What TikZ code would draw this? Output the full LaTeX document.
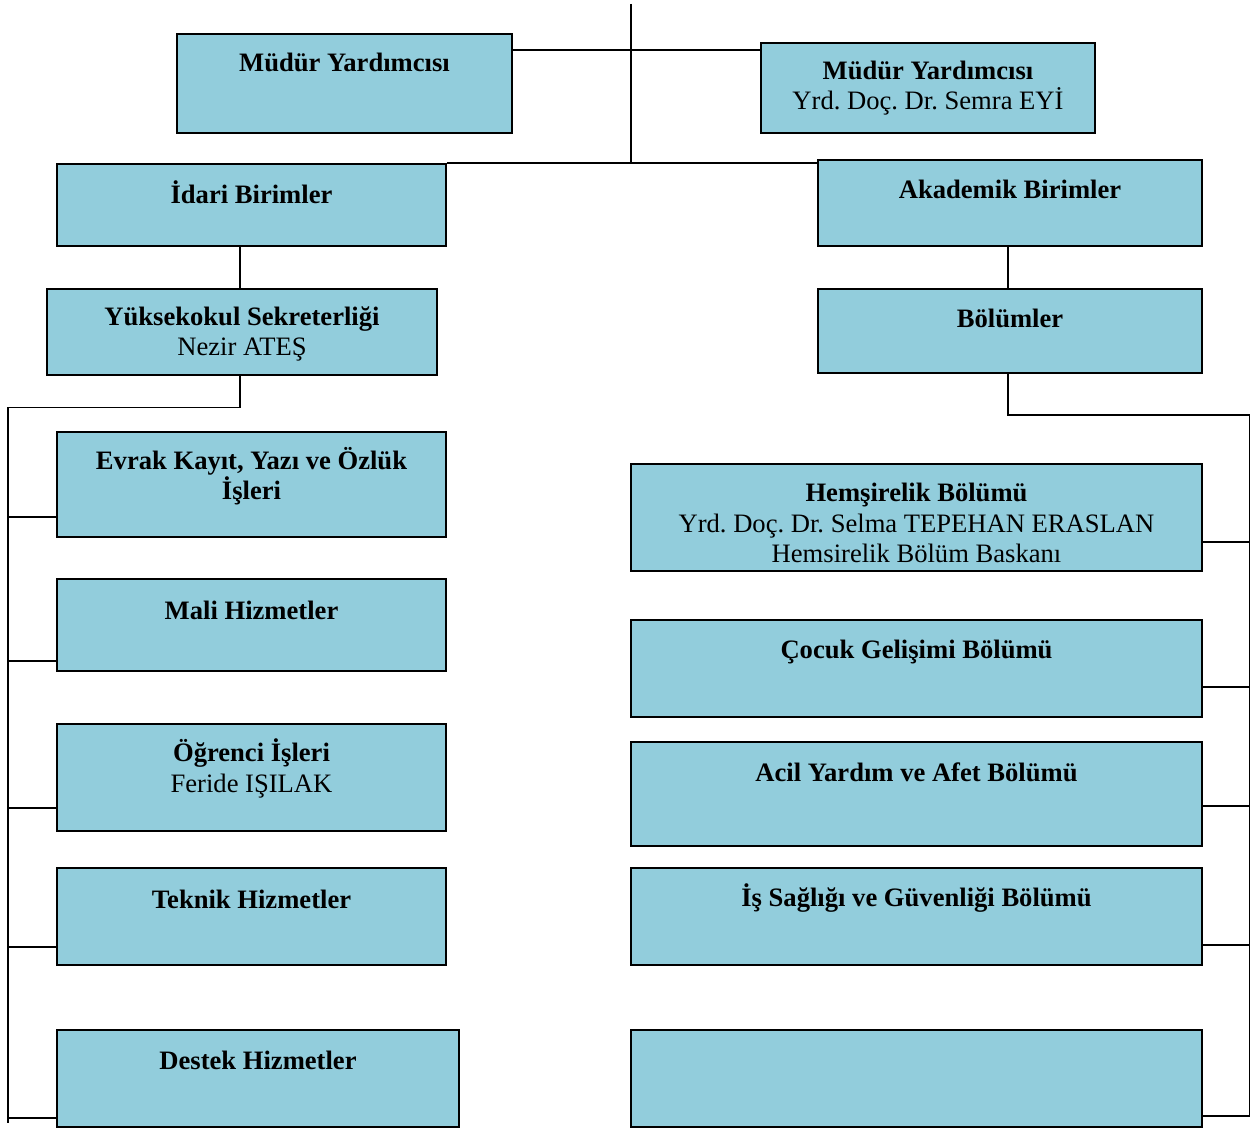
\documentclass[tikz,border=0pt]{standalone}
\usepackage{fontspec}
\setmainfont{Liberation Serif}
\definecolor{boxfill}{HTML}{92CDDC}
\frenchspacing
\begin{document}
\begin{tikzpicture}[x=1pt,y=-1pt,
  orgbox/.style={draw=black,line width=1.9pt,fill=boxfill,inner sep=0pt},
  boxtxt/.style={anchor=north,inner sep=0pt,align=center,font=\fontsize{26.6}{30.8}\selectfont},
  conn/.style={line width=1.9pt,draw=black}]
\useasboundingbox (0,0) rectangle (1251,1131);
% helper: box from (x1,y1) to (x2,y2)
\newcommand{\obox}[5]{%
  \node[orgbox,minimum width={#3-#1},minimum height={#4-#2}] (#5) at ({(#1+#3)/2},{(#2+#4)/2}) {};}
\newcommand{\otxt}[4]{%
  \node[boxtxt] (#4) at ({#1},{#2+13}) {\rule{0pt}{24pt}#3};}

% boxes
\obox{177}{34}{512}{133}{my1}
\obox{761}{43}{1095}{133}{my2}
\obox{57}{164}{446}{246}{idari}
\obox{818}{160}{1202}{246}{akad}
\obox{47}{289}{437}{375}{ysek}
\obox{818}{289}{1202}{373}{bol}
\obox{57}{432}{446}{537}{evrak}
\obox{57}{579}{446}{671}{mali}
\obox{57}{724}{446}{831}{ogr}
\obox{57}{868}{446}{965}{tek}
\obox{57}{1030}{459}{1127}{des}
\obox{631}{464}{1202}{571}{hem}
\obox{631}{620}{1202}{717}{coc}
\obox{631}{742}{1202}{846}{acil}
\obox{631}{868}{1202}{965}{isg}
\obox{631}{1030}{1202}{1127}{bos}

% texts
\otxt{344.5}{34}{\textbf{Müdür Yardımcısı}}{t1}
\otxt{928}{42}{\textbf{Müdür Yardımcısı}\\Yrd. Doç. Dr. Semra EYİ}{t2}
\otxt{251.5}{166}{\textbf{İdari Birimler}}{t3}
\otxt{1010}{161}{\textbf{Akademik Birimler}}{t4}
\otxt{242}{288}{\textbf{Yüksekokul Sekreterliği}\\Nezir ATEŞ}{t5}
\otxt{1010}{290}{\textbf{Bölümler}}{t6}
\otxt{251.5}{432}{\textbf{Evrak Kayıt, Yazı ve Özlük}\\\textbf{İşleri}}{t7}
\otxt{251.5}{582}{\textbf{Mali Hizmetler}}{t8}
\otxt{251.5}{724}{\textbf{Öğrenci İşleri}\\Feride IŞILAK}{t9}
\otxt{251.5}{871}{\textbf{Teknik Hizmetler}}{t10}
\otxt{258}{1032}{\textbf{Destek Hizmetler}}{t11}
\otxt{916.5}{464}{\textbf{Hemşirelik Bölümü}\\Yrd. Doç. Dr. Selma TEPEHAN ERASLAN\\Hemsirelik Bölüm Baskanı}{t12}
\otxt{916.5}{621}{\textbf{Çocuk Gelişimi Bölümü}}{t13}
\otxt{916.5}{744}{\textbf{Acil Yardım ve Afet Bölümü}}{t14}
\otxt{916.5}{869}{\textbf{İş Sağlığı ve Güvenliği Bölümü}}{t15}

% coordinates
\coordinate (top) at (631,4);
\coordinate (mid) at (631,164);
\coordinate (lj) at (8,407.5);
\coordinate (lbot) at (8,1123);
\coordinate (rj) at (1249.5,415);
\coordinate (rbot) at (1249.5,1116);

% connectors
\draw[conn] (top) -- (mid);
\draw[conn] (my1.east |- 0,50) -- (my2.west |- 0,50);
\draw[conn] (idari.north east |- 0,163) -- (akad.west |- 0,163);
\draw[conn] (idari.south -| 240,0) -- (ysek.north -| 240,0);
\draw[conn] (akad.south -| 1008,0) -- (bol.north -| 1008,0);
\draw[conn] (ysek.south -| 240,0) |- (lj) -- (lbot);
\draw[conn] (bol.south -| 1008,0) |- (rj) -- (rbot);
\draw[conn] (lj |- 0,517) -- (evrak.west |- 0,517);
\draw[conn] (lj |- 0,661) -- (mali.west |- 0,661);
\draw[conn] (lj |- 0,808) -- (ogr.west |- 0,808);
\draw[conn] (lj |- 0,947) -- (tek.west |- 0,947);
\draw[conn] (lj |- 0,1118) -- (des.west |- 0,1118);
\draw[conn] (rj |- 0,542) -- (hem.east |- 0,542);
\draw[conn] (rj |- 0,687) -- (coc.east |- 0,687);
\draw[conn] (rj |- 0,806) -- (acil.east |- 0,806);
\draw[conn] (rj |- 0,945) -- (isg.east |- 0,945);
\draw[conn] (rbot) -- (bos.east |- rbot);
\end{tikzpicture}
\end{document}
